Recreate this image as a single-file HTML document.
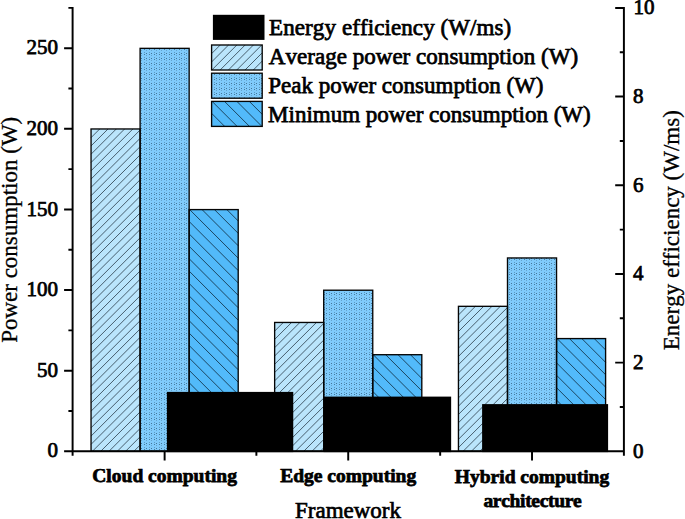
<!DOCTYPE html>
<html>
<head>
<meta charset="utf-8">
<style>
html,body{margin:0;padding:0;background:#fff;}
body{width:685px;height:519px;overflow:hidden;}
svg{display:block;}
text{font-family:"Liberation Serif",serif;font-kerning:none;font-variant-ligatures:none;font-feature-settings:"liga" 0,"kern" 0;fill:#000;stroke:#000;stroke-width:0.75px;}
.tk{font-size:21px;stroke-width:0.2px;}
.ttl{font-size:23px;stroke-width:0.3px;}
.lg{font-size:23px;}
.xl{font-size:19.5px;font-weight:bold;stroke-width:0px;stroke:none;}
</style>
</head>
<body>
<svg width="685" height="519" viewBox="0 0 685 519">
<defs>
<pattern id="pk" patternUnits="userSpaceOnUse" x="0" y="3" width="5" height="5">
<rect width="5" height="5" fill="#80cbfb"/>
<g shape-rendering="crispEdges" fill="#2c5878">
<rect x="1" y="0" width="1" height="1" opacity="0.75"/>
<rect x="1" y="2" width="1" height="1" opacity="0.32"/>
<rect x="4" y="1" width="1" height="1" opacity="0.7"/>
<rect x="4" y="4" width="1" height="1" opacity="0.42"/>
</g>
</pattern>
</defs>
<g><rect x="91.05" y="128.97" width="49.05" height="322.33" fill="#bae5fc"/><rect x="140.1" y="48.35" width="49.05" height="402.95" fill="url(#pk)"/><rect x="189.15" y="209.59" width="49.05" height="241.71" fill="#52bafa"/><rect x="274.65" y="322.46" width="49.05" height="128.84" fill="#bae5fc"/><rect x="323.7" y="290.21" width="49.05" height="161.09" fill="url(#pk)"/><rect x="372.75" y="354.71" width="49.05" height="96.59" fill="#52bafa"/><rect x="458.45" y="306.33" width="49.05" height="144.97" fill="#bae5fc"/><rect x="507.5" y="257.96" width="49.05" height="193.34" fill="url(#pk)"/><rect x="556.55" y="338.58" width="49.05" height="112.72" fill="#52bafa"/><rect x="211.6" y="45" width="50.6" height="25" fill="#bae5fc"/><rect x="211.6" y="73.2" width="50.6" height="25" fill="url(#pk)"/><rect x="211.6" y="101.4" width="50.6" height="25" fill="#52bafa"/></g>
<path d="M91.05 129.34L91.42 128.97M91.05 137.63L99.71 128.97M91.05 145.92L108 128.97M91.05 154.21L116.29 128.97M91.05 162.5L124.58 128.97M91.05 170.79L132.87 128.97M91.05 179.08L140.1 130.03M91.05 187.37L140.1 138.32M91.05 195.66L140.1 146.61M91.05 203.95L140.1 154.9M91.05 212.24L140.1 163.19M91.05 220.53L140.1 171.48M91.05 228.82L140.1 179.77M91.05 237.11L140.1 188.06M91.05 245.4L140.1 196.35M91.05 253.69L140.1 204.64M91.05 261.98L140.1 212.93M91.05 270.27L140.1 221.22M91.05 278.56L140.1 229.51M91.05 286.85L140.1 237.8M91.05 295.14L140.1 246.09M91.05 303.43L140.1 254.38M91.05 311.72L140.1 262.67M91.05 320.01L140.1 270.96M91.05 328.3L140.1 279.25M91.05 336.59L140.1 287.54M91.05 344.88L140.1 295.83M91.05 353.17L140.1 304.12M91.05 361.46L140.1 312.41M91.05 369.75L140.1 320.7M91.05 378.04L140.1 328.99M91.05 386.33L140.1 337.28M91.05 394.62L140.1 345.57M91.05 402.91L140.1 353.86M91.05 411.2L140.1 362.15M91.05 419.49L140.1 370.44M91.05 427.78L140.1 378.73M91.05 436.07L140.1 387.02M91.05 444.36L140.1 395.31M92.4 451.3L140.1 403.6M100.69 451.3L140.1 411.89M108.98 451.3L140.1 420.18M117.27 451.3L140.1 428.47M125.56 451.3L140.1 436.76M133.85 451.3L140.1 445.05M274.65 322.83L275.02 322.46M274.65 331.12L283.31 322.46M274.65 339.41L291.6 322.46M274.65 347.7L299.89 322.46M274.65 355.99L308.18 322.46M274.65 364.28L316.47 322.46M274.65 372.57L323.7 323.52M274.65 380.86L323.7 331.81M274.65 389.15L323.7 340.1M274.65 397.44L323.7 348.39M274.65 405.73L323.7 356.68M274.65 414.02L323.7 364.97M274.65 422.31L323.7 373.26M274.65 430.6L323.7 381.55M274.65 438.89L323.7 389.84M274.65 447.18L323.7 398.13M278.82 451.3L323.7 406.42M287.11 451.3L323.7 414.71M295.4 451.3L323.7 423M303.69 451.3L323.7 431.29M311.98 451.3L323.7 439.58M320.27 451.3L323.7 447.87M458.45 306.7L458.82 306.33M458.45 314.99L467.11 306.33M458.45 323.28L475.4 306.33M458.45 331.57L483.69 306.33M458.45 339.86L491.98 306.33M458.45 348.15L500.27 306.33M458.45 356.44L507.5 307.39M458.45 364.73L507.5 315.68M458.45 373.02L507.5 323.97M458.45 381.31L507.5 332.26M458.45 389.6L507.5 340.55M458.45 397.89L507.5 348.84M458.45 406.18L507.5 357.13M458.45 414.47L507.5 365.42M458.45 422.76L507.5 373.71M458.45 431.05L507.5 382M458.45 439.34L507.5 390.29M458.45 447.63L507.5 398.58M463.07 451.3L507.5 406.87M471.36 451.3L507.5 415.16M479.65 451.3L507.5 423.45M487.94 451.3L507.5 431.74M496.23 451.3L507.5 440.03M504.52 451.3L507.5 448.32M211.6 45.37L211.97 45M211.6 53.66L220.26 45M211.6 61.95L228.55 45M211.84 70L236.84 45M220.13 70L245.13 45M228.42 70L253.42 45M236.71 70L261.71 45M245 70L262.2 52.8M253.29 70L262.2 61.09M261.58 70L262.2 69.38" stroke="#3a4f5e" stroke-width="0.9" fill="none"/>
<path d="M189.15 444.69L195.76 451.3M189.15 432.29L208.16 451.3M189.15 419.89L220.56 451.3M189.15 407.49L232.96 451.3M189.15 395.09L238.2 444.14M189.15 382.69L238.2 431.74M189.15 370.29L238.2 419.34M189.15 357.89L238.2 406.94M189.15 345.49L238.2 394.54M189.15 333.09L238.2 382.14M189.15 320.69L238.2 369.74M189.15 308.29L238.2 357.34M189.15 295.89L238.2 344.94M189.15 283.49L238.2 332.54M189.15 271.09L238.2 320.14M189.15 258.69L238.2 307.74M189.15 246.29L238.2 295.34M189.15 233.89L238.2 282.94M189.15 221.49L238.2 270.54M189.65 209.59L238.2 258.14M202.05 209.59L238.2 245.74M214.45 209.59L238.2 233.34M226.85 209.59L238.2 220.94M372.75 441.01L383.04 451.3M372.75 428.61L395.44 451.3M372.75 416.21L407.84 451.3M372.75 403.81L420.24 451.3M372.75 391.41L421.8 440.46M372.75 379.01L421.8 428.06M372.75 366.61L421.8 415.66M373.25 354.71L421.8 403.26M385.65 354.71L421.8 390.86M398.05 354.71L421.8 378.46M410.45 354.71L421.8 366.06M556.55 449.68L558.17 451.3M556.55 437.28L570.57 451.3M556.55 424.88L582.97 451.3M556.55 412.48L595.37 451.3M556.55 400.08L605.6 449.13M556.55 387.68L605.6 436.73M556.55 375.28L605.6 424.33M556.55 362.88L605.6 411.93M556.55 350.48L605.6 399.53M557.05 338.58L605.6 387.13M569.45 338.58L605.6 374.73M581.85 338.58L605.6 362.33M594.25 338.58L605.6 349.93M211.6 125.7L212.3 126.4M211.6 113.3L224.7 126.4M212.1 101.4L237.1 126.4M224.5 101.4L249.5 126.4M236.9 101.4L261.9 126.4M249.3 101.4L262.2 114.3M261.7 101.4L262.2 101.9" stroke="#1c4661" stroke-width="1.0" fill="none"/>
<g stroke="#050505" stroke-width="1.35" fill="none"><rect x="91.05" y="128.97" width="49.05" height="322.33"/><rect x="140.1" y="48.35" width="49.05" height="402.95"/><rect x="189.15" y="209.59" width="49.05" height="241.71"/><rect x="274.65" y="322.46" width="49.05" height="128.84"/><rect x="323.7" y="290.21" width="49.05" height="161.09"/><rect x="372.75" y="354.71" width="49.05" height="96.59"/><rect x="458.45" y="306.33" width="49.05" height="144.97"/><rect x="507.5" y="257.96" width="49.05" height="193.34"/><rect x="556.55" y="338.58" width="49.05" height="112.72"/><rect x="211.6" y="45" width="50.6" height="25"/><rect x="211.6" y="73.2" width="50.6" height="25"/><rect x="211.6" y="101.4" width="50.6" height="25"/></g>
<g fill="#000"><rect x="166.9" y="391.9" width="126.35" height="60.2"/><rect x="323.6" y="396.6" width="127.55" height="55.5"/><rect x="482.1" y="404.1" width="126" height="48"/></g>
<g stroke="#000" stroke-width="1.95" fill="none">
<path d="M72.6 6.9V455.8M623.9 6.9V455.8M72.6 451.3H623.9"/>
<path d="M64.1 451.3H72.6M64.1 370.68H72.6M64.1 290.06H72.6M64.1 209.44H72.6M64.1 128.82H72.6M64.1 48.2H72.6M68.4 410.99H72.6M68.4 330.37H72.6M68.4 249.75H72.6M68.4 169.13H72.6M68.4 88.51H72.6M68.4 7.89H72.6M615.2 362.62H623.9M615.2 273.94H623.9M615.2 185.26H623.9M615.2 96.58H623.9M615.2 7.9H623.9M619.8 406.96H623.9M619.8 318.28H623.9M619.8 229.6H623.9M619.8 140.92H623.9M619.8 52.24H623.9M164.62 451.3V460.4M348.22 451.3V460.4M532.02 451.3V460.4M256.38 451.3V455.8M440.17 451.3V455.8"/>
</g>
<g class="tk" text-anchor="end"><text x="57.9" y="457.4">0</text><text x="57.9" y="376.78">50</text><text x="57.9" y="296.16">100</text><text x="57.9" y="215.54">150</text><text x="57.9" y="134.92">200</text><text x="57.9" y="54.3">250</text></g>
<g class="tk"><text x="633.0" y="457.8">0</text><text x="633.0" y="369.12">2</text><text x="633.0" y="280.44">4</text><text x="633.0" y="191.76">6</text><text x="633.0" y="103.08">8</text><text x="633.4" y="13.7">10</text></g>
<text class="ttl" text-anchor="middle" transform="translate(16.6 229.8) rotate(-90)">Power consumption (W)</text>
<text class="ttl" text-anchor="middle" transform="translate(679.2 230.2) rotate(-90)">Energy efficiency (W/ms)</text>
<g class="xl" text-anchor="middle">
<text x="164.62" y="481.8">Cloud computing</text>
<text x="348.22" y="482.0">Edge computing</text>
<text x="532.02" y="482.6">Hybrid computing</text>
<text x="532.42" y="507.0" letter-spacing="-0.32">architecture</text>
</g>
<text class="ttl" text-anchor="middle" x="348" y="517.8" style="stroke-width:0.7px">Framework</text>
<rect x="212.9" y="14.8" width="51.6" height="25.1" fill="#000"/>
<g class="lg">
<text x="269.1" y="35.1" letter-spacing="0.09">Energy efficiency (W/ms)</text>
<text x="268.8" y="64.1" letter-spacing="0.03">Average power consumption (W)</text>
<text x="268.2" y="92.9">Peak power consumption (W)</text>
<text x="268.1" y="121.6">Minimum power consumption (W)</text>
</g>
</svg>
</body>
</html>
